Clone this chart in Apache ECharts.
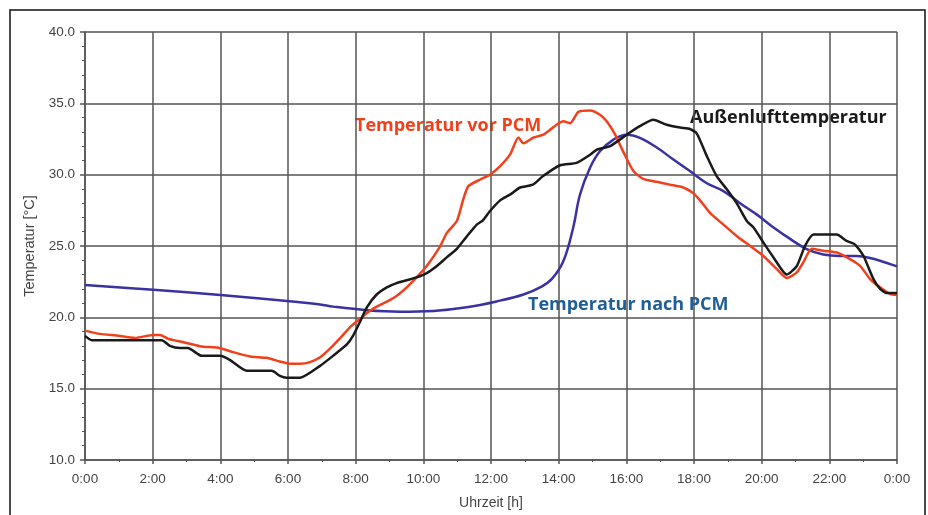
<!DOCTYPE html>
<html>
<head>
<meta charset="utf-8">
<script src="https://cdn.jsdelivr.net/npm/echarts@6/dist/echarts.min.js"></script>
<style>
html,body{margin:0;padding:0;background:#fff;}
#chart{width:928px;height:515px;font-variant-ligatures:none;}
</style>
</head>
<body>
<div id="chart"></div>
<script>
// Außenlufttemperatur [hour, °C]
var outdoorData = [
  [0,18.7],[0.2,18.4],[2.27,18.4],[2.51,18.0],[2.81,17.85],[3.04,17.85],[3.45,17.3],[3.99,17.3],
  [4.29,17.0],[4.78,16.25],[5.52,16.25],[5.76,15.9],[5.96,15.77],[6.36,15.77],[6.95,16.6],[7.33,17.3],
  [7.74,18.1],[7.92,18.7],[8.13,19.7],[8.33,20.7],[8.62,21.6],[8.92,22.1],[9.21,22.4],[9.51,22.6],
  [9.80,22.8],[10.10,23.1],[10.40,23.6],[10.69,24.2],[10.99,24.8],[11.28,25.66],[11.58,26.5],[11.76,26.8],
  [11.97,27.45],[12.27,28.2],[12.56,28.6],[12.86,29.1],[13.24,29.3],[13.54,29.9],[14.04,30.66],[14.53,30.83],
  [14.93,31.4],[15.13,31.76],[15.52,32.0],[16.01,32.8],[16.40,33.4],[16.80,33.85],[17.19,33.5],[17.59,33.3],
  [17.88,33.2],[18.08,32.9],[18.38,31.3],[18.67,29.9],[18.97,28.97],[19.26,28.0],[19.56,26.75],[19.76,26.3],
  [20.05,25.25],[20.35,24.2],[20.74,23.0],[21.04,23.6],[21.28,25.0],[21.53,25.8],[22.22,25.8],[22.51,25.36],
  [22.76,25.1],[23.01,24.3],[23.30,22.7],[23.50,22.0],[23.70,21.7],[24.0,21.7]
];
// Temperatur vor PCM [hour, °C]
var beforePcmData = [
  [0,19.07],[0.44,18.84],[0.93,18.72],[1.48,18.56],[2.02,18.77],[2.22,18.77],[2.46,18.49],[2.91,18.26],
  [3.40,17.98],[3.99,17.84],[4.38,17.56],[4.88,17.26],[5.37,17.16],[5.76,16.9],[6.06,16.75],[6.36,16.75],
  [6.65,16.86],[6.95,17.2],[7.24,17.8],[7.54,18.54],[7.83,19.3],[8.13,19.9],[8.33,20.3],[8.62,20.75],
  [8.92,21.1],[9.21,21.5],[9.51,22.1],[9.80,22.8],[10.10,23.6],[10.48,24.9],[10.69,25.9],[10.99,26.75],
  [11.18,28.27],[11.33,29.2],[11.68,29.66],[11.97,30.0],[12.27,30.6],[12.56,31.4],[12.81,32.6],[12.96,32.2],
  [13.25,32.6],[13.55,32.8],[13.94,33.5],[14.14,33.74],[14.34,33.6],[14.58,34.4],[14.93,34.5],[15.22,34.2],
  [15.42,33.74],[15.67,32.8],[15.91,31.6],[16.21,30.25],[16.50,29.7],[16.90,29.5],[17.29,29.3],[17.68,29.1],
  [17.98,28.7],[18.18,28.2],[18.48,27.3],[18.87,26.5],[19.26,25.7],[19.66,25.0],[20.05,24.3],[20.44,23.4],
  [20.74,22.75],[21.04,23.15],[21.23,23.85],[21.48,24.8],[21.82,24.66],[22.22,24.54],[22.61,24.08],[22.91,23.6],
  [23.20,22.7],[23.50,22.1],[23.80,21.63],[24.0,21.56]
];
// Temperatur nach PCM [hour, °C]
var afterPcmData = [
  [0,22.26],[2.02,21.93],[4.0,21.56],[6.36,21.05],[6.95,20.9],[7.33,20.75],[8.33,20.5],[9.31,20.4],
  [10.30,20.45],[11.28,20.7],[12.27,21.17],[12.96,21.6],[13.45,22.1],[13.80,22.7],[14.14,23.95],[14.43,26.3],
  [14.63,28.6],[14.93,30.5],[15.22,31.64],[15.62,32.46],[16.01,32.8],[16.40,32.58],[16.90,31.9],[17.39,31.06],
  [17.88,30.25],[18.38,29.4],[18.87,28.85],[19.36,28.0],[19.86,27.2],[20.35,26.3],[20.84,25.5],[21.33,24.78],
  [21.82,24.4],[22.31,24.3],[22.80,24.3],[23.30,24.1],[23.80,23.73],[24.0,23.57]
];
var xAxisTitle = 'Uhrzeit [h]';
var yAxisTitle = 'Temperatur [°C]';
var labelOutdoor = 'Außenlufttemperatur';
var labelBefore = 'Temperatur vor PCM';
var labelAfter = 'Temperatur nach PCM';

var chart = echarts.init(document.getElementById('chart'), null, {renderer:'canvas'});
try {
  var cv = document.querySelector('#chart canvas');
  if (cv) { cv.getContext('2d').fontVariantLigatures = 'none'; cv.style.fontVariantLigatures = 'none'; }
} catch (e) {}
var gridColor = '#555';
var option = {
  animation: false,
  backgroundColor: '#fff',
  grid: {left: 85, right: 31, top: 32, bottom: 54},
  xAxis: {
    type: 'value', min: 0, max: 24, interval: 2,
    name: xAxisTitle, nameLocation: 'middle', nameGap: 36,
    nameTextStyle: {fontFamily: 'Liberation Sans', fontSize: 14, color: '#444'},
    axisLine: {show: true, lineStyle: {color: gridColor, width: 1.5}},
    axisTick: {show: true, length: 4, lineStyle: {color: gridColor, width: 1.5}},
    minorTick: {show: true, splitNumber: 2, length: 2, lineStyle: {color: gridColor}},
    splitLine: {show: true, lineStyle: {color: gridColor, width: 1.5}},
    axisLabel: {margin: 12, fontFamily: 'Liberation Sans', fontSize: 13.5, color: '#444',
      formatter: function (v) { return (v % 24) + ':00'; }}
  },
  yAxis: {
    type: 'value', min: 10, max: 40, interval: 5,
    name: yAxisTitle, nameLocation: 'middle', nameGap: 36,
    nameTextStyle: {fontFamily: 'Liberation Sans', fontSize: 14.5, color: '#444'},
    axisLine: {show: true, lineStyle: {color: gridColor, width: 1.5}},
    axisTick: {show: true, length: 5, lineStyle: {color: gridColor, width: 1.5}},
    minorTick: {show: true, splitNumber: 5, length: 3, lineStyle: {color: gridColor}},
    splitLine: {show: true, lineStyle: {color: gridColor, width: 1.5}},
    axisLabel: {margin: 10, fontFamily: 'Liberation Sans', fontSize: 13.5, color: '#444',
      formatter: function (v) { return v.toFixed(1); }}
  },
  series: [
    {name: labelAfter, type: 'line', data: afterPcmData, showSymbol: false, smooth: 0.4,
     lineStyle: {color: '#3a32a2', width: 2.5}, z: 3},
    {name: labelBefore, type: 'line', data: beforePcmData, showSymbol: false, smooth: 0.2,
     lineStyle: {color: '#f0401c', width: 2.5}, z: 4},
    {name: labelOutdoor, type: 'line', data: outdoorData, showSymbol: false, smooth: 0.2,
     lineStyle: {color: '#1a1a1a', width: 2.5}, z: 5}
  ],
  graphic: [
    {type: 'rect', shape: {x: 10, y: 10, width: 915, height: 520}, silent: true,
     style: {fill: 'none', stroke: '#111', lineWidth: 1.5}, z: -1},
    {type: 'text', left: 355, top: 117, style: {text: labelBefore, fill: '#f0401c',
      font: 'bold 18px "Open Sans"'}},
    {type: 'text', left: 690, top: 109, style: {text: labelOutdoor, fill: '#1a1a1a',
      font: 'bold 18px "Open Sans"'}},
    {type: 'text', left: 528, top: 296, style: {text: labelAfter, fill: '#1f5e96',
      font: 'bold 18px "Open Sans"'}}
  ]
};
chart.setOption(option);
</script>
</body>
</html>
